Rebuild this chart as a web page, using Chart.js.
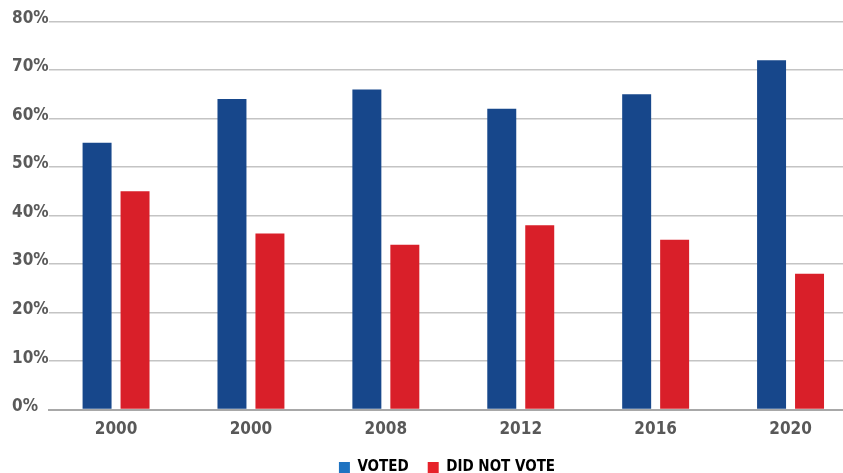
<!DOCTYPE html>
<html>
<head>
<meta charset="utf-8">
<script src="https://cdn.jsdelivr.net/npm/chart.js@4/dist/chart.umd.min.js"></script>
<style>
  html, body { margin: 0; padding: 0; background: #fff; overflow: hidden; }
  #wrap { width: 894px; height: 473px; overflow: hidden; }
</style>
</head>
<body>
<div id="wrap"><canvas id="chart" width="894" height="485"></canvas></div>
<script>
// Turnout by election year (share of eligible voters)
const years = ['2000', '2000', '2008', '2012', '2016', '2020'];
const voted = [55, 64, 66, 62, 65, 72];
const didNotVote = [45, 36.3, 34, 38, 35, 28];
const yTicks = [0, 10, 20, 30, 40, 50, 60, 70, 80];

const seriesNames = ['VOTED', 'DID NOT VOTE'];
const barColors = ['#17478b', '#d91f29'];
const legendColors = ['#1f73c1', '#e6222a'];

const axisFont = { family: 'DejaVu Sans Condensed', size: 17, weight: 'bold' };

// Center the legend under the plot area rather than the padded canvas
const legendShift = {
  id: 'legendShift',
  afterLayout(chart) {
    const lg = chart.legend;
    if (lg) { lg.left += 12; lg.right += 12; }
  }
};

new Chart(document.getElementById('chart'), {
  type: 'bar',
  data: {
    labels: years,
    datasets: [
      { label: seriesNames[0], data: voted, backgroundColor: barColors[0] },
      { label: seriesNames[1], data: didNotVote, backgroundColor: barColors[1] }
    ]
  },
  plugins: [legendShift],
  options: {
    responsive: false,
    animation: false,
    devicePixelRatio: 1,
    layout: { padding: { left: 12, right: 36, top: 21.5, bottom: 0 } },
    datasets: {
      bar: { categoryPercentage: 0.563, barPercentage: 0.763 }
    },
    scales: {
      x: {
        grid: { display: false, drawTicks: false },
        border: { display: true, color: '#a8a8a8', width: 2 },
        ticks: { color: '#585858', font: axisFont, padding: 10 },
        // keep the legend snug under the year labels
        afterFit: (axis) => { axis.height -= 9; }
      },
      y: {
        min: 0,
        max: 80,
        afterBuildTicks: (axis) => { axis.ticks = yTicks.map(v => ({ value: v })); },
        grid: { color: '#c4c4c4', lineWidth: 1.6, drawTicks: false },
        border: { display: false },
        ticks: {
          color: '#5a5a5a',
          font: axisFont,
          padding: 0,
          crossAlign: 'far',
          labelOffset: -3,
          callback: (v) => v + '%'
        }
      }
    },
    plugins: {
      tooltip: { enabled: false },
      legend: {
        position: 'bottom',
        labels: {
          boxWidth: 11,
          boxHeight: 11,
          padding: 19,
          color: '#555555',
          font: { family: 'DejaVu Sans Condensed', size: 15, weight: 'bold' },
          generateLabels: (chart) => chart.data.datasets.map((ds, i) => ({
            text: ds.label,
            fillStyle: legendColors[i],
            strokeStyle: legendColors[i],
            lineWidth: 0,
            hidden: false,
            datasetIndex: i
          }))
        }
      }
    }
  }
});
</script>
</body>
</html>
